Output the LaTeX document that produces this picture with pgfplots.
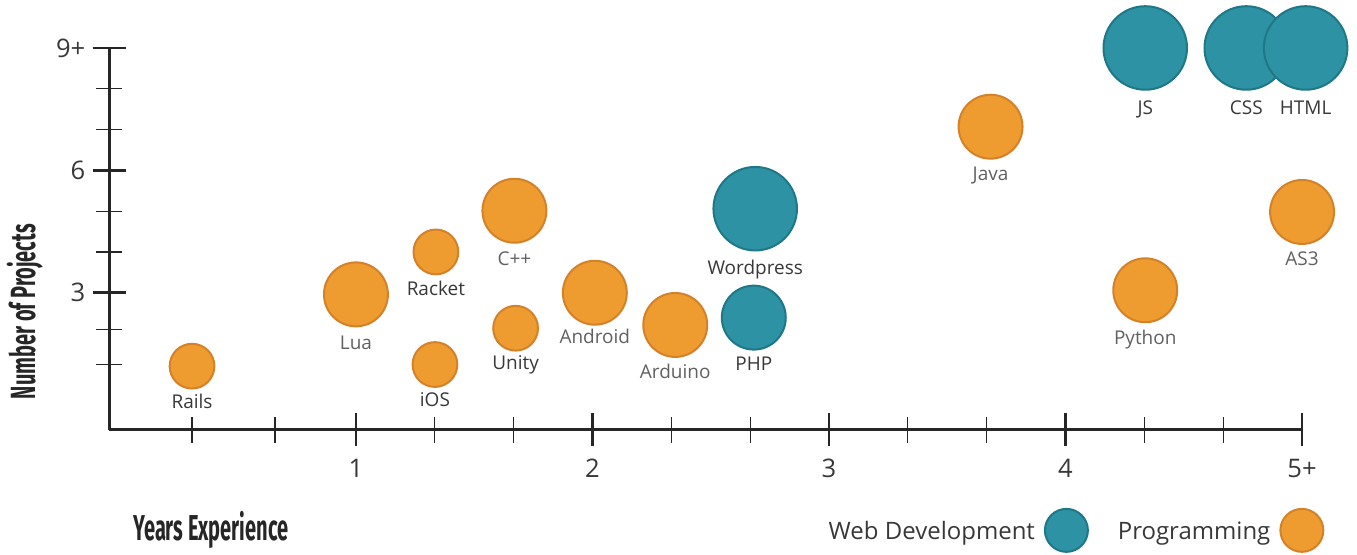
\documentclass[border=0pt]{standalone}
\usepackage{pgfplots}
\pgfplotsset{compat=1.18}
\usepackage{graphicx}
\usepackage{fontspec}
\setmainfont{Open Sans}
\newfontfamily\condfont{Fira Sans}
\definecolor{orF}{HTML}{EE9B30}
\definecolor{orD}{HTML}{D4822A}
\definecolor{teF}{HTML}{2D92A4}
\definecolor{teD}{HTML}{1F7886}
\definecolor{axc}{HTML}{262626}
\definecolor{lblD}{HTML}{383838}
\definecolor{lblL}{HTML}{606060}
\pgfplotsset{
  bub/.style n args={5}{only marks, mark=*, mark size=#1,
    mark options={draw=#2, fill=#3, line width=1pt},
    point meta=explicit symbolic, nodes near coords,
    every node near coord/.append style={anchor=north, inner sep=0pt, yshift=-#4,
      font=\fontsize{9.5}{9.5}\selectfont, text=#5},
    forget plot},
}
\begin{document}
\begin{tikzpicture}
\begin{axis}[
  at={(0,0)}, anchor=south west,
  scale only axis, width=597pt, height=191pt,
  xmin=-0.0433, xmax=5, ymin=-0.355, ymax=9,
  axis lines=left, axis line style={-, line width=1.5pt, color=axc},
  clip=false,
  xtick={1,2,3,4,5}, xticklabels={1,2,3,4,5+},
  ytick={3,6,9}, yticklabels={3,6,9+},
  minor xtick={0.307,0.658,1.333,1.667,2.333,2.667,3.333,3.667,4.333,4.667},
  minor ytick={1.24,2.1,4,5,7,8},
  tick align=center,
  major tick length=16.5pt, minor tick length=13pt,
  every major tick/.append style={line width=1.4pt, color=axc},
  every minor tick/.append style={line width=0.6pt, color=axc},
  tick label style={font=\fontsize{12.8}{12.8}\selectfont, text=lblD},
  xticklabel style={anchor=north, inner sep=0pt, yshift=-6.5pt},
  yticklabel style={anchor=east, inner sep=0pt, xshift=-3.5pt},
  ylabel={\resizebox{87.5pt}{\height}{\condfont\bfseries\fontsize{17.5}{17.5}\selectfont Number of Projects}},
  every axis y label/.style={at={(rel axis cs:-0.0708,0.309)}, rotate=90, anchor=center, text=axc},
  xlabel={\resizebox{77.5pt}{\height}{\condfont\bfseries\fontsize{18}{18}\selectfont Years Experience}},
  every axis x label/.style={at={(rel axis cs:0.0854,-0.262)}, anchor=center, text=axc},
  legend plot pos=right,
  legend columns=2,
  legend style={at={(rel axis cs:1.019,-0.264)}, anchor=east, draw=none, fill=none,
    inner sep=0pt, column sep=4.5pt, nodes={inner sep=0pt},
    font=\fontsize{12}{12}\selectfont, text=lblD},
]
\addlegendimage{legend image code/.code={\draw[draw=teD, fill=teF, line width=1pt] (10.75pt,0.9pt) circle (10.75pt);}}
\addlegendentry{Web Development}
\addlegendimage{legend image code/.code={\draw[draw=orD, fill=orF, line width=1pt] (10.75pt,0.9pt) circle (10.75pt);}}
\addlegendentry{\hspace{10pt}Programming}
% Programming
\addplot[bub={11.2pt}{orD}{orF}{13.7pt}{lblD}] coordinates {(0.307,1.20) [Rails]};
\addplot[bub={16pt}{orD}{orF}{20.2pt}{lblL}] coordinates {(1.0,2.96) [Lua]};
\addplot[bub={11.2pt}{orD}{orF}{14pt}{lblD}] coordinates {(1.338,4.0) [Racket]};
\addplot[bub={11.2pt}{orD}{orF}{13.3pt}{lblD}] coordinates {(1.334,1.24) [iOS]};
\addplot[bub={16pt}{orD}{orF}{20.2pt}{lblL}] coordinates {(1.670,5.01) [C++]};
\addplot[bub={11.2pt}{orD}{orF}{13.2pt}{lblD}] coordinates {(1.675,2.13) [Unity]};
\addplot[bub={16pt}{orD}{orF}{17.8pt}{lblL}] coordinates {(2.01,3.0) [Android]};
\addplot[bub={16pt}{orD}{orF}{19pt}{lblL}] coordinates {(2.35,2.21) [Arduino]};
\addplot[bub={16pt}{orD}{orF}{19.8pt}{lblL}] coordinates {(3.683,7.07) [Java]};
\addplot[bub={16pt}{orD}{orF}{19.4pt}{lblL}] coordinates {(4.337,3.06) [Python]};
\addplot[bub={16pt}{orD}{orF}{19.5pt}{lblL}] coordinates {(5.0,4.98) [AS3]};
% Web development
\addplot[bub={20.9pt}{teD}{teF}{25.4pt}{lblD}] coordinates {(2.688,5.06) [Wordpress]};
\addplot[bub={16pt}{teD}{teF}{19.3pt}{lblD}] coordinates {(2.682,2.39) [PHP]};
\addplot[bub={20.9pt}{teD}{teF}{25.8pt}{lblD}] coordinates {(4.337,9.0) [JS]};
\addplot[bub={20.9pt}{teD}{teF}{25.8pt}{lblD}] coordinates {(4.764,9.0) [CSS]};
\addplot[bub={20.9pt}{teD}{teF}{25.8pt}{lblD}] coordinates {(5.015,9.0) [HTML]};
\end{axis}
\path[use as bounding box] (-54pt,-62pt) rectangle (624.5pt,215pt);
\end{tikzpicture}
\end{document}
